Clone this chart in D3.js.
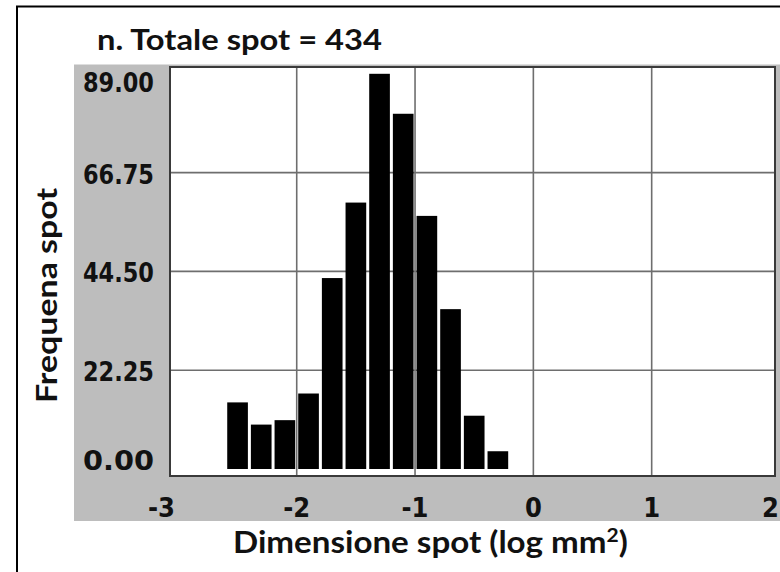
<!DOCTYPE html>
<html>
<head>
<meta charset="utf-8">
<script src="https://cdn.jsdelivr.net/npm/d3@7"></script>
<style>
  html, body { margin: 0; padding: 0; background: #fff; overflow: hidden; }
  svg { display: block; }
</style>
</head>
<body>
<svg id="chart" width="780" height="572"></svg>
<script>
// ---- data ----
const binCenters = [-2.5, -2.3, -2.1, -1.9, -1.7, -1.5, -1.3, -1.1, -0.9, -0.7, -0.5, -0.3];
const counts     = [15, 10, 11, 17, 43, 60, 89, 80, 57, 36, 12, 4];
const binWidth   = 0.2;
const yTicks     = [0, 22.25, 44.5, 66.75, 89];
const xTicks     = [-3, -2, -1, 0, 1, 2];
const titleText  = "n. Totale spot = 434";
const xTitleText = "Dimensione spot (log mm";
const yTitleText = "Frequena spot";

// ---- layout ----
const W = 780, H = 572;
const plot = { left: 170, right: 775, top: 67, bottom: 476 };
const svg = d3.select("#chart");

const x = d3.scaleLinear().domain([-3, 2]).range([178.4, 770]);
const y = d3.scaleLinear().domain([0, 89]).range([469, 73.8]);

const tickFont = "'DejaVu Sans Condensed', 'Liberation Sans Narrow', 'DejaVu Sans', sans-serif";
const titleFont = "Lato, 'Open Sans', sans-serif";

// outer frame
svg.append("rect")
  .attr("x", 17).attr("y", 6.5).attr("width", W + 20).attr("height", H + 20)
  .attr("fill", "#fff").attr("stroke", "#000").attr("stroke-width", 2);

// gray panel
svg.append("rect")
  .attr("x", 74).attr("y", 64.5).attr("width", W - 74 + 10).attr("height", 521 - 64.5)
  .attr("fill", "#bdbdbd");

// plot area
svg.append("rect")
  .attr("x", plot.left).attr("y", plot.top)
  .attr("width", plot.right - plot.left).attr("height", plot.bottom - plot.top)
  .attr("fill", "#fff");

// grid lines
const gridG = svg.append("g").attr("stroke", "#6e6e6e").attr("stroke-width", 1.6);
gridG.selectAll("line.v")
  .data(xTicks.filter((d, i) => i > 0 && i < xTicks.length - 1))
  .join("line").attr("class", "v")
  .attr("x1", d => x(d)).attr("x2", d => x(d))
  .attr("y1", plot.top).attr("y2", plot.bottom);
gridG.selectAll("line.h")
  .data(yTicks.filter((d, i) => i > 0 && i < yTicks.length - 1))
  .join("line").attr("class", "h")
  .attr("y1", d => y(d)).attr("y2", d => y(d))
  .attr("x1", plot.left).attr("x2", plot.right);

// bars
const bars = binCenters.map((c, i) => ({ c, v: counts[i] }));
svg.append("g").selectAll("rect")
  .data(bars)
  .join("rect")
  .attr("x", d => x(d.c - binWidth / 2) + 1.5)
  .attr("width", d => x(d.c + binWidth / 2) - x(d.c - binWidth / 2) - 3)
  .attr("y", d => y(d.v))
  .attr("height", d => y(0) - y(d.v))
  .attr("fill", "#000");

// plot border
svg.append("rect")
  .attr("x", plot.left).attr("y", plot.top)
  .attr("width", plot.right - plot.left).attr("height", plot.bottom - plot.top)
  .attr("fill", "none").attr("stroke", "#3a3a3a").attr("stroke-width", 2);

// y tick labels
svg.append("g").selectAll("text")
  .data(yTicks)
  .join("text")
  .attr("x", 154)
  .attr("y", (d, i) => i === 0 ? y(d) + 1 : (i === yTicks.length - 1 ? y(d) + 18 : y(d) + 11))
  .attr("text-anchor", "end")
  .attr("font-family", tickFont)
  .attr("font-weight", "bold")
  .attr("font-size", 27)
  .attr("fill", "#111")
  .attr("textLength", 71)
  .attr("lengthAdjust", "spacingAndGlyphs")
  .text(d => d.toFixed(2));

// x tick labels (plain hyphen as in the reference)
svg.append("g").selectAll("text")
  .data(xTicks)
  .join("text")
  .attr("x", (d, i) => i === 0 ? plot.left + 5 : (i === xTicks.length - 1 ? W - 1 : x(d)))
  .attr("y", 517)
  .attr("text-anchor", (d, i) => i === 0 ? "end" : (i === xTicks.length - 1 ? "end" : "middle"))
  .attr("font-family", tickFont)
  .attr("font-weight", "bold")
  .attr("font-size", 27)
  .attr("fill", "#111")
  .text(d => String(d));

// chart title
svg.append("text")
  .attr("x", 97).attr("y", 50)
  .attr("font-family", titleFont)
  .attr("font-weight", 700)
  .attr("font-size", 28)
  .attr("fill", "#111")
  .attr("textLength", 285)
  .attr("lengthAdjust", "spacingAndGlyphs")
  .text(titleText);

// x axis title (stretched horizontally to the reference width)
const xtG = svg.append("g");
const xt = xtG.append("text")
  .attr("x", 0).attr("y", 0)
  .attr("font-family", titleFont)
  .attr("font-weight", 700)
  .attr("font-size", 30)
  .attr("fill", "#111");
xt.append("tspan").text(xTitleText);
xt.append("tspan").attr("font-size", 19).attr("dy", -11).text("2");
xt.append("tspan").attr("dy", 11).text(")");
const xtW = xt.node().getBBox().width || 395;
xtG.attr("transform", `translate(233,553) scale(${395 / xtW},1)`);

// y axis title
svg.append("text")
  .attr("transform", "translate(57,403) rotate(-90)")
  .attr("x", 0).attr("y", 0)
  .attr("font-family", titleFont)
  .attr("font-weight", 700)
  .attr("font-size", 29)
  .attr("fill", "#111")
  .attr("textLength", 215)
  .attr("lengthAdjust", "spacingAndGlyphs")
  .text(yTitleText);
</script>
</body>
</html>
